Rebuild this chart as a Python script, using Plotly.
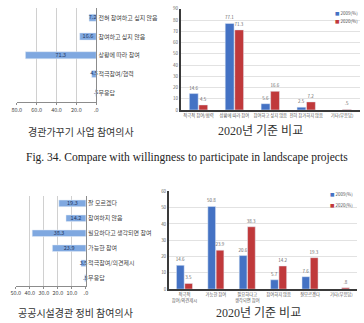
import plotly.graph_objects as go

W, H = 364, 323

# ---------------- data ----------------
# top-left: 경관가꾸기 사업 참여의사 (2020)
c1_cats = ["전혀 참여하고 싶지 않음", "참여하고 싶지 않음", "상황에 따라 참여", "적극참여/협력", "무응답"]
c1_vals = [7.2, 16.6, 71.3, 4.5, 0.5]
c1_tickvals = [80, 60, 40, 20, 0]
c1_ticktext = ["80.0", "60.0", "40.0", "20.0", ".0"]

# top-right: comparison
c2_cats = ["적극적 참여/협력", "상황에 따라 참여", "참여하고 싶지 않음", "전혀 참가하지 않음", "기타(무응답)"]
c2_old = [14.6, 77.1, 5.6, 2.5, None]
c2_new = [4.5, 71.3, 16.6, 7.2, 0.5]

# bottom-left: 공공시설경관 정비 참여의사 (2020)
c3_cats = ["잘 모르겠다", "참여하지 않음", "필요하다고 생각되면 참여", "가능한 참여", "적극참여/의견제시", "무응답"]
c3_vals = [19.3, 14.2, 38.3, 23.9, 3.5, 0.8]
c3_tickvals = [50, 40, 30, 20, 10, 0]
c3_ticktext = ["50.0", "40.0", "30.0", "20.0", "10.0", ".0"]

# bottom-right: comparison
c4_cats = ["적극적<br>참여/의견제시", "가능한 참여", "필요하다고<br>생각되면 참여", "참여하지 않음", "잘모르겠다", "기타(무응답)"]
c4_old = [14.6, 50.8, 20.6, 5.7, 7.6, None]
c4_new = [3.5, 23.9, 38.3, 14.2, 19.3, 0.8]

series_names = ["2009(%)", "2020(%)"]
captions = ["경관가꾸기 사업 참여의사", "2020년 기준 비교",
            "Fig. 34. Compare with willingness to participate in landscape projects",
            "공공시설경관 정비 참여의사", "2020년 기준 비교"]

# ---------------- style ----------------
KFONT = "Noto Sans CJK KR"
SERIF_K = "Liberation Serif, Noto Sans CJK KR"
LIGHT = "#7fa8e0"
BLUE = "#4472c4"
RED = "#c0393b"
COLORS = [BLUE, RED]


def xd(a, b):
    return [a / W, b / W]


def yd(top, bottom):
    return [1 - bottom / H, 1 - top / H]


def short(v):
    s = f"{v:.1f}"
    return s[1:] if s.startswith("0") else s


fig = go.Figure()


def hbar(cats, vals, width, xa, ya):
    fig.add_trace(go.Bar(
        x=vals, y=cats, orientation="h", marker_color=LIGHT, width=width,
        xaxis=xa, yaxis=ya, showlegend=False, hoverinfo="skip"))
    # value labels centred on each bar
    fig.add_trace(go.Scatter(
        x=[v / 2 for v in vals], y=cats, mode="text", text=[short(v) for v in vals],
        textposition="middle center", cliponaxis=False,
        textfont=dict(size=5.5, color="#1f3864", family=KFONT),
        xaxis=xa, yaxis=ya, showlegend=False, hoverinfo="skip"))


def vbars(cats, series, xa, ya):
    for vals, name, col in zip(series, series_names, COLORS):
        fig.add_trace(go.Bar(
            x=cats, y=vals, name=name, marker_color=col,
            text=[short(v) if v is not None else "" for v in vals], textposition="outside",
            constraintext="none", textfont=dict(size=4.5, color="#666", family=KFONT),
            xaxis=xa, yaxis=ya, showlegend=False, cliponaxis=False))


hbar(c1_cats, c1_vals, 0.38, "x", "y")
vbars(c2_cats, [c2_old, c2_new], "x2", "y2")
hbar(c3_cats, c3_vals, 0.44, "x3", "y3")
vbars(c4_cats, [c4_old, c4_new], "x4", "y4")

hbar_x = dict(showgrid=True, gridcolor="#d0d0d0", gridwidth=1, showline=True,
              linecolor="#8c8c8c", ticks="outside", ticklen=2, tickcolor="#8c8c8c",
              tickfont=dict(size=5.5, color="#444", family=KFONT), zeroline=False,
              fixedrange=True)
hbar_y = dict(type="category", side="right", showgrid=False, showline=True,
              linecolor="#8c8c8c", ticks="", tickfont=dict(size=6, color="#444", family=KFONT))
vbar_x = dict(type="category", showline=True, linecolor="#3a3a3a", linewidth=2,
              ticks="", tickfont=dict(size=4.3, color="#555", family=KFONT), showgrid=False)
vbar_y = dict(showgrid=True, gridcolor="#e2e2e2", gridwidth=1, showline=True,
              linecolor="#3a3a3a", linewidth=1.5, ticks="", zeroline=False,
              tickfont=dict(size=4.5, color="#666", family=KFONT))

fig.update_layout(
    width=W, height=H, margin=dict(l=0, r=0, t=0, b=0),
    paper_bgcolor="white", plot_bgcolor="white",
    barmode="group", bargap=0.47, bargroupgap=0.07,
    font=dict(family=KFONT),
    xaxis=dict(hbar_x, domain=xd(12, 93), range=[80, 0], anchor="y",
               tickvals=c1_tickvals, ticktext=c1_ticktext),
    yaxis=dict(hbar_y, domain=yd(5.5, 101), range=[4.5, -0.5], anchor="x"),
    xaxis2=dict(vbar_x, domain=xd(179, 362), anchor="y2"),
    yaxis2=dict(vbar_y, domain=yd(6, 109), range=[0, 90], dtick=10, anchor="x2"),
    xaxis3=dict(hbar_x, domain=xd(11, 82.5), range=[50, 0], anchor="y3",
                tickvals=c3_tickvals, ticktext=c3_ticktext),
    yaxis3=dict(hbar_y, domain=yd(196.5, 288), range=[5.5, -0.5], anchor="x3"),
    xaxis4=dict(vbar_x, domain=xd(167, 359), anchor="y4"),
    yaxis4=dict(vbar_y, domain=yd(192, 291.5), range=[0, 60], dtick=10, anchor="x4"),
)

anns = []
# legends (as text with coloured squares)
for i, (name, col) in enumerate(zip(series_names, COLORS)):
    anns.append(dict(text=f"<span style='color:{col}'>■</span> {name}",
                     x=334 / W, y=1 - (10 + 8 * i) / H, xref="paper", yref="paper",
                     xanchor="left", yanchor="middle", showarrow=False,
                     font=dict(size=4.5, color="#555", family=KFONT)))
    anns.append(dict(text=f"<span style='color:{col}'>■</span> {name}",
                     x=329 / W, y=1 - (195 + 11 * i) / H, xref="paper", yref="paper",
                     xanchor="left", yanchor="middle", showarrow=False,
                     font=dict(size=4.5, color="#555", family=KFONT)))

cap_pos = [(77, 131), (260, 130), (186, 157), (72, 315), (258, 316)]
cap_fonts = [dict(size=10, color="#333", family=KFONT),
             dict(size=12, color="#333", family=SERIF_K),
             dict(size=11.5, color="#222", family="Liberation Serif"),
             dict(size=10, color="#333", family=KFONT),
             dict(size=12, color="#333", family=SERIF_K)]
for txt, (cx, cy), fnt in zip(captions, cap_pos, cap_fonts):
    anns.append(dict(text=txt, x=cx / W, y=1 - cy / H, xref="paper", yref="paper",
                     xanchor="center", yanchor="middle", showarrow=False, font=fnt))

fig.update_layout(annotations=anns)

fig.write_html("out.html")
